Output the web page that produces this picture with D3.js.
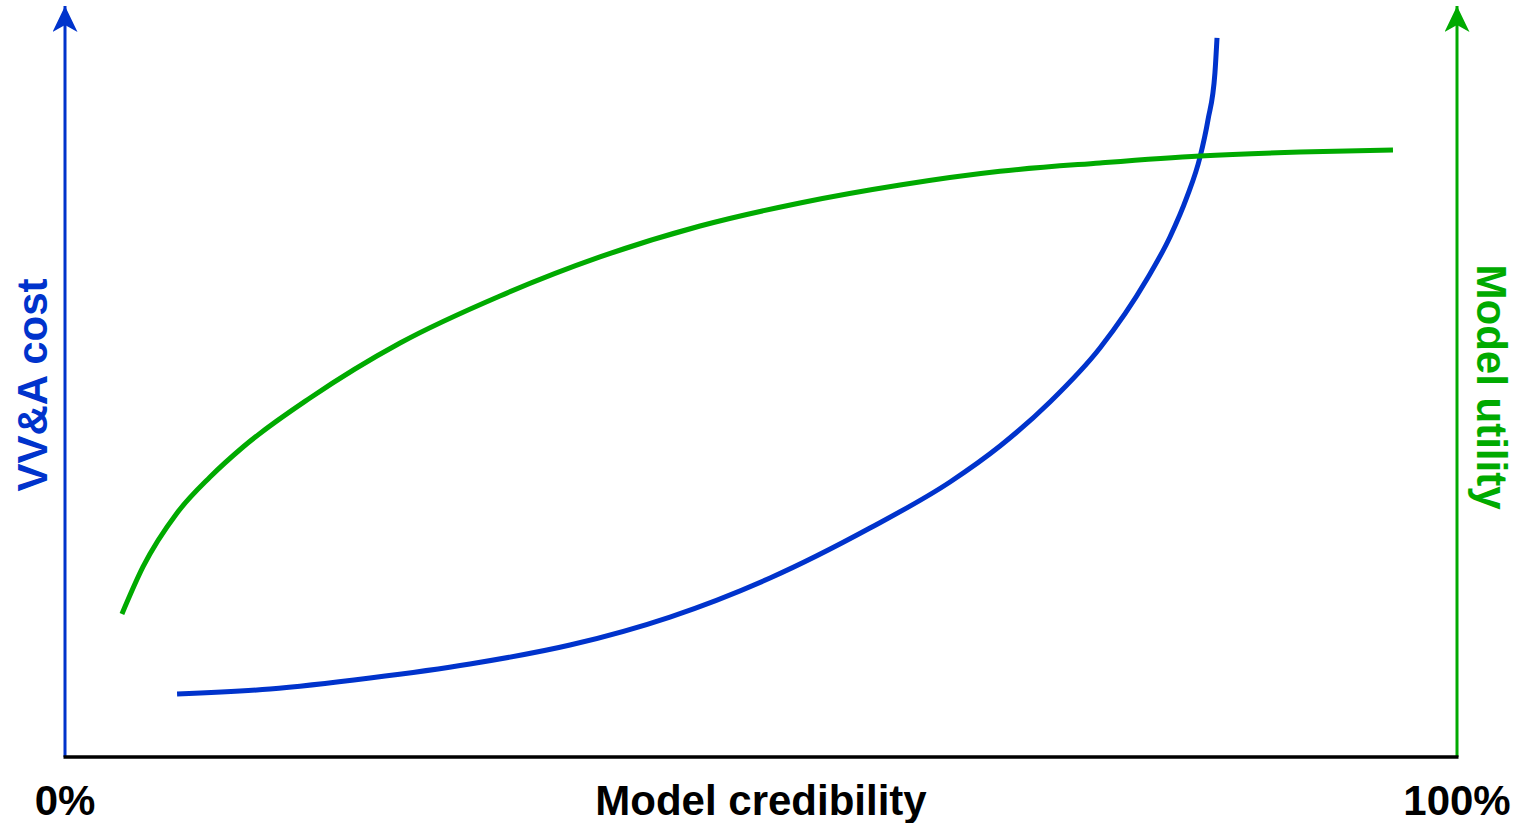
<!DOCTYPE html>
<html>
<head>
<meta charset="utf-8">
<script src="https://cdn.jsdelivr.net/npm/d3@7"></script>
<style>
	body { margin: 0; background: #fff; }
	text { font-family: "Liberation Sans", Arial, sans-serif; font-weight: bold; }
</style>
</head>
<body>
<svg id="chart" width="1521" height="823"></svg>
<script>
// credibility (%) vs relative VV&A cost / model utility (0-100)
var costX = [8.05, 14.73, 21.91, 29.09, 36.28, 43.46, 50.65, 57.83, 63.58, 67.17, 70.76, 74.35, 77.73, 79.38, 80.60, 81.54, 82.11, 82.61, 82.76];
var costY = [8.41, 9.08, 10.55, 12.42, 14.95, 18.69, 23.90, 30.57, 36.72, 41.52, 47.40, 54.61, 63.82, 69.43, 74.77, 80.11, 85.05, 91.32, 96.00];
var utilX = [4.09, 5.60, 8.05, 10.42, 12.79, 17.60, 24.07, 31.25, 38.43, 45.62, 52.80, 59.99, 67.17, 74.35, 81.54, 88.72, 95.40];
var utilY = [19.09, 25.37, 32.58, 37.38, 41.39, 47.93, 55.27, 61.55, 66.76, 70.89, 73.97, 76.37, 78.20, 79.31, 80.24, 80.77, 81.04];
var xTickLabels = ["0%", "100%"];
var xTitle = "Model credibility";
var leftTitle = "VV&A cost";
var rightTitle = "Model utility";

var blue = "#0033cc",
	green = "#00aa00";

var svg = d3.select("#chart");

var xScale = d3.scaleLinear().domain([0, 100]).range([65, 1457]);
var yScale = d3.scaleLinear().domain([0, 100]).range([757, 8]);

var defs = svg.append("defs");
var marker = function (id, color) {
	defs.append("marker")
		.attr("id", id)
		.attr("viewBox", "0 0 26 25")
		.attr("refX", 26)
		.attr("refY", 12.5)
		.attr("markerWidth", 26)
		.attr("markerHeight", 25)
		.attr("markerUnits", "userSpaceOnUse")
		.attr("orient", "auto")
		.append("path")
		.attr("d", "M26,12.5 L0,0 L7,12.5 L0,25 Z")
		.attr("fill", color);
};
marker("arrowBlue", blue);
marker("arrowGreen", green);

// axes
svg.append("line")
	.attr("x1", xScale(0)).attr("x2", xScale(0))
	.attr("y1", yScale(0)).attr("y2", yScale(100) - 2)
	.attr("stroke", blue).attr("stroke-width", 3)
	.attr("marker-end", "url(#arrowBlue)");

svg.append("line")
	.attr("x1", xScale(100)).attr("x2", xScale(100))
	.attr("y1", yScale(0)).attr("y2", yScale(100) - 2)
	.attr("stroke", green).attr("stroke-width", 3)
	.attr("marker-end", "url(#arrowGreen)");

svg.append("line")
	.attr("x1", xScale(0) - 1.5).attr("x2", xScale(100) + 1.5)
	.attr("y1", yScale(0)).attr("y2", yScale(0))
	.attr("stroke", "#000").attr("stroke-width", 3.5);

// curves
var line = d3.line()
	.x(function (d) { return xScale(d[0]); })
	.y(function (d) { return yScale(d[1]); })
	.curve(d3.curveMonotoneX);

svg.append("path")
	.datum(d3.zip(costX, costY))
	.attr("d", line)
	.attr("fill", "none")
	.attr("stroke", blue)
	.attr("stroke-width", 5);

svg.append("path")
	.datum(d3.zip(utilX, utilY))
	.attr("d", line)
	.attr("fill", "none")
	.attr("stroke", green)
	.attr("stroke-width", 5);

// labels
svg.selectAll(".tick-label").data(xTickLabels)
	.enter()
	.append("text")
	.attr("class", "tick-label")
	.attr("x", function (d, i) { return xScale(i * 100); })
	.attr("y", 815)
	.attr("text-anchor", "middle")
	.attr("font-size", 42)
	.attr("fill", "#000")
	.text(function (d) { return d; });

svg.append("text")
	.attr("x", (xScale(0) + xScale(100)) / 2)
	.attr("y", 815)
	.attr("text-anchor", "middle")
	.attr("font-size", 42)
	.attr("fill", "#000")
	.text(xTitle);

svg.append("text")
	.attr("transform", "translate(47,385) rotate(-90)")
	.attr("text-anchor", "middle")
	.attr("font-size", 42)
	.attr("fill", blue)
	.text(leftTitle);

svg.append("text")
	.attr("transform", "translate(1477,387) rotate(90)")
	.attr("text-anchor", "middle")
	.attr("font-size", 42)
	.attr("fill", green)
	.text(rightTitle);
</script>
</body>
</html>
